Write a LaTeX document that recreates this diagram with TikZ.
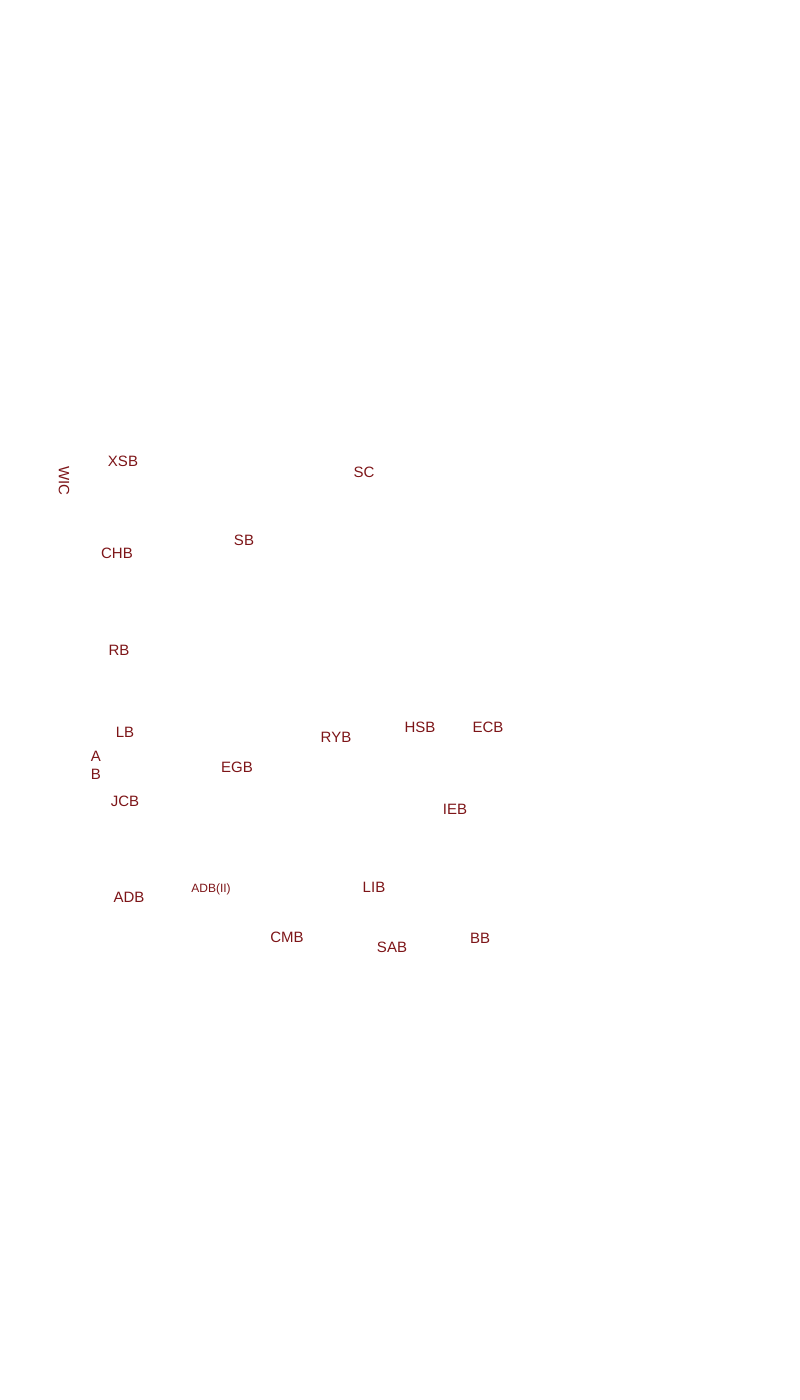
\documentclass[tikz,border=0pt]{standalone}
\usepackage{fontspec}
\setmainfont{Liberation Sans}
\definecolor{lbl}{HTML}{7D1518}
\begin{document}
\begin{tikzpicture}[x=1pt,y=-1pt,
  t/.style={text=lbl,font=\fontsize{15}{17}\selectfont,inner sep=0pt},
  s/.style={text=lbl,font=\fontsize{12}{14}\selectfont,inner sep=0pt}]
\useasboundingbox (0,0) rectangle (800,1400);
\node[t] (xsb) at (123,461) {XSB};
\node[t,rotate=-90] (wic) at (64,481) {WIC};
\node[t] (sc) at (364,472) {SC};
\node[t] (sb) at (244,540) {SB};
\node[t] (chb) at (117,553) {CHB};
\node[t] (rb) at (119,650) {RB};
\node[t] (lb) at (125,732) {LB};
\node[t] (ryb) at (336,737) {RYB};
\node[t] (hsb) at (420,727) {HSB};
\node[t] (ecb) at (488,727) {ECB};
\node[t] (a) at (96,756) {A};
\node[t] (b) at (96,774) {B};
\node[t] (egb) at (237,767) {EGB};
\node[t] (jcb) at (125,801) {JCB};
\node[t] (ieb) at (455,809) {IEB};
\node[t] (adb) at (129,897) {ADB};
\node[s] (adb2) at (211,889) {ADB(II)};
\node[t] (lib) at (374,887) {LIB};
\node[t] (cmb) at (287,937) {CMB};
\node[t] (sab) at (392,947) {SAB};
\node[t] (bb) at (480,938) {BB};
\end{tikzpicture}
\end{document}
